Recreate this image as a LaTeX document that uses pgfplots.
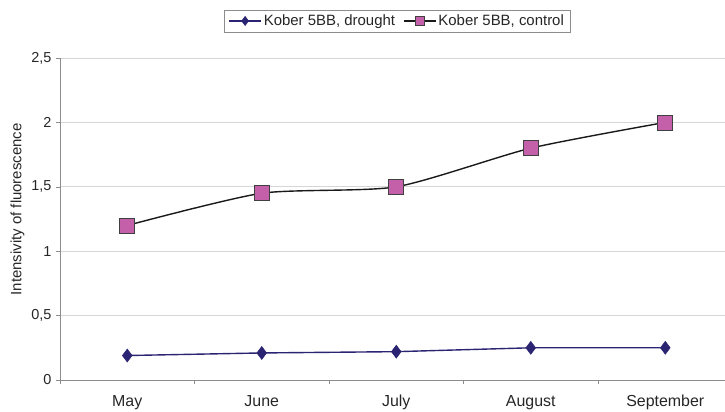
\documentclass[border=0pt]{standalone}
\usepackage{fontspec}
\setmainfont{Liberation Sans}
\usepackage{pgfplots}
\pgfplotsset{compat=1.18}
\definecolor{drought}{HTML}{2A2472}
\definecolor{ctrlfill}{HTML}{C45FAA}
\definecolor{gridc}{HTML}{D6D6D6}
\definecolor{axisc}{HTML}{8C8C8C}
\begin{document}
\begin{tikzpicture}[x=1bp,y=1bp]
\begin{axis}[
  at={(60bp,32bp)}, anchor=south west,
  scale only axis, width=665bp, height=322bp,
  xmin=-0.5, xmax=4.444, ymin=0, ymax=2.5,
  axis x line*=bottom, axis y line*=left,
  axis line style={axisc, line width=0.8pt, -},
  xtick={0,1,2,3,4},
  xticklabels={May,June,July,August,September},
  major x tick style={draw=none},
  minor xtick={-0.5,0.5,1.5,2.5,3.5},
  minor x tick style={axisc, line width=0.6pt},
  ytick={0,0.5,1,1.5,2,2.5},
  ymajorgrids, grid style={gridc, line width=0.8pt},
  major y tick style={axisc, line width=0.6pt},
  tick align=outside, major tick length=4bp, minor tick length=4bp,
  /pgf/number format/use comma,
  /pgf/number format/assume math mode=true,
  yticklabel style={font=\fontsize{14.5}{16}\selectfont, text=black!85, xshift=-1bp},
  xticklabel style={font=\fontsize{16}{18}\selectfont, text=black!85, anchor=base, yshift=-22bp},
  ylabel={Intensivity of fluorescence},
  ylabel style={font=\fontsize{15}{17}\selectfont, text=black!85, at={(axis description cs:-0.064,0.53)}, anchor=center, rotate=0},
  legend columns=2,
  legend style={at={(axis description cs:0.507,1.115)}, anchor=center,
    draw=axisc, line width=0.6pt, font=\fontsize{15}{17}\selectfont,
    inner xsep=4bp, inner ysep=3bp, text=black!85,
    /tikz/every even column/.append style={column sep=6bp}},
  legend image code/.code={\draw[#1, mark=none] (0bp,0bp) -- (32bp,0bp); \draw[#1, mark size=4.6bp] plot coordinates {(16bp,0bp)};},
  clip=false,
]
\addplot[drought, line width=1.4pt, mark=diamond*, mark size=6.5bp,
  mark options={fill=drought, draw=drought, line width=0.5pt}]
  coordinates {(0,0.19) (1,0.21) (2,0.22) (3,0.25) (4,0.25)};
\addlegendentry{Kober 5BB, drought}
\addplot[black!90, line width=1.4pt, smooth, tension=0.4, mark=square*, mark size=7.5bp,
  mark options={fill=ctrlfill, draw=black!75, line width=0.7pt, solid}]
  coordinates {(0,1.2) (1,1.45) (2,1.5) (3,1.8) (4,2.0)};
\addlegendentry{Kober 5BB, control}
\end{axis}
\pgfresetboundingbox
\path (0,0) rectangle (725bp,412bp);
\end{tikzpicture}
\end{document}
